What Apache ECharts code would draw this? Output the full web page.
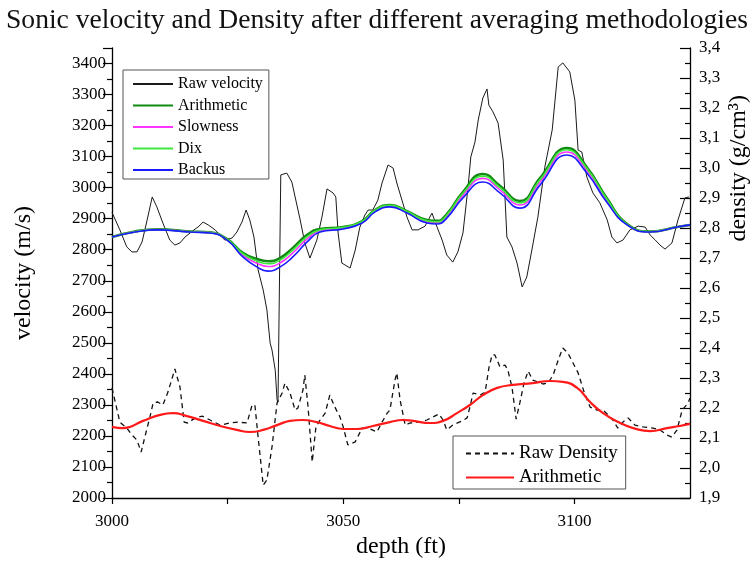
<!DOCTYPE html>
<html>
<head>
<meta charset="utf-8">
<script src="https://cdn.jsdelivr.net/npm/echarts@6/dist/echarts.min.js"></script>
<style>
html,body{margin:0;padding:0;background:#fff;}
#chart{width:754px;height:562px;}
</style>
</head>
<body>
<div id="chart"></div>
<script>
// Raw sonic velocity (m/s) vs depth (ft)
var velDepth = [3000,3001.7,3003.2,3004.3,3005.4,3006.5,3007.6,3008.7,3009.7,3011.0,3012.5,3013.6,3014.7,3015.8,3016.9,3018.0,3018.6,3019.7,3020.8,3022.3,3023.4,3024.4,3026.0,3027.0,3028.1,3029.0,3029.8,3030.7,3031.6,3032.7,3033.5,3034.2,3034.6,3035.3,3035.7,3035.9,3036.5,3037.8,3038.9,3039.6,3040.7,3041.7,3042.8,3044.3,3045.4,3046.5,3047.8,3048.4,3048.9,3049.7,3051.5,3052.6,3053.6,3054.7,3055.4,3056.4,3057.5,3058.4,3059.7,3060.8,3061.6,3062.7,3063.8,3064.9,3066.2,3067.7,3069.2,3070.3,3071.4,3072.4,3073.7,3074.8,3075.9,3077.0,3077.6,3078.5,3079.2,3080.2,3081.1,3081.5,3082.4,3083.5,3084.6,3085.4,3086.5,3087.6,3088.7,3089.7,3090.8,3092.1,3093.6,3095.2,3096.5,3097.5,3099.0,3100.1,3100.8,3101.6,3102.7,3104.0,3105.5,3107.1,3108.1,3109.2,3110.5,3112.0,3113.8,3115.3,3116.4,3117.5,3118.5,3119.6,3121.1,3122.4,3123.9,3124.8];
var rawVel = [2920,2864,2809,2793,2793,2825,2896,2970,2938,2886,2831,2815,2822,2841,2854,2867,2873,2889,2880,2864,2847,2831,2838,2857,2889,2928,2896,2841,2735,2670,2606,2499,2477,2412,2316,2309,3041,3047,3018,2970,2896,2822,2773,2831,2905,2996,2983,2970,2854,2757,2741,2799,2873,2912,2928,2928,2960,3015,3073,3063,3015,2960,2905,2864,2864,2876,2918,2873,2831,2783,2760,2793,2854,3002,3099,3147,3218,3289,3318,3266,3244,3208,3089,2841,2809,2757,2680,2712,2799,2905,3066,3186,3389,3402,3373,3282,3121,3115,3034,2983,2951,2896,2841,2822,2831,2864,2876,2873,2847,2831,2815,2802,2822,2896,2967,2970];

// Averaged velocities
var avgDepth = [3000,3005,3009.9,3016.9,3021.2,3024.9,3028.3,3031.4,3033.7,3036.3,3039.1,3042.2,3045,3050,3054.1,3056.9,3060.1,3063.8,3068.1,3070.3,3072.4,3075.9,3080.2,3083.9,3088.2,3092.6,3098.4,3102.7,3107.1,3111.4,3116.4,3122.2,3125];
var arithVel = [2841,2859,2866,2859,2856,2834,2790,2770,2763,2773,2806,2848,2867,2873,2892,2928,2944,2924,2896,2893,2915,2986,3044,3006,2957,3032,3128,3066,2964,2883,2859,2873,2880];
var slowVel  = [2841,2858,2865,2858,2855,2832,2783,2756,2746,2757,2790,2835,2861,2870,2889,2925,2941,2921,2890,2887,2908,2976,3030,2993,2944,3019,3115,3056,2957,2881,2858,2873,2880];
var dixVel   = [2841,2858,2865,2858,2855,2833,2787,2763,2755,2766,2799,2842,2864,2872,2891,2927,2943,2923,2893,2890,2912,2982,3037,3000,2951,3026,3122,3062,2961,2882,2858,2873,2880];
var backusVel= [2841,2857,2864,2857,2854,2831,2777,2744,2731,2744,2777,2825,2857,2867,2886,2922,2938,2918,2886,2883,2902,2967,3018,2983,2934,3009,3105,3047,2951,2880,2857,2873,2880];

// Raw density (g/cm3)
var denDepth = [3000,3001.7,3003.2,3004.3,3005.4,3006.3,3007.1,3008.2,3008.9,3009.9,3011.0,3012.1,3013.6,3014.7,3015.6,3016.4,3018.0,3019.5,3021.2,3023.4,3025.5,3027.2,3029.2,3030.3,3030.9,3031.6,3032.7,3033.5,3034.6,3035.7,3036.8,3037.4,3038.5,3039.6,3040.2,3041.3,3041.7,3042.4,3043.3,3044.1,3045.0,3046.1,3047.1,3048.2,3049.3,3050.0,3051.0,3052.6,3054.1,3055.4,3057.3,3058.4,3059.5,3060.1,3061.2,3061.6,3062.3,3063.4,3064.4,3066.6,3068.1,3069.4,3070.7,3071.6,3072.4,3073.7,3075.7,3076.8,3077.4,3078.1,3079.6,3080.7,3081.5,3082.2,3082.8,3083.9,3085.0,3085.6,3086.5,3087.4,3088.2,3089.1,3090.0,3091.0,3092.1,3093.2,3094.3,3095.4,3096.5,3097.5,3098.6,3099.7,3100.8,3102.1,3103.4,3104.9,3106.2,3107.3,3108.3,3109.4,3110.5,3111.6,3113.1,3114.8,3117.0,3118.5,3120.0,3121.1,3122.2,3123.3,3124.6,3125];
var rawDen = [2.267,2.153,2.133,2.110,2.093,2.053,2.103,2.170,2.217,2.220,2.210,2.253,2.330,2.270,2.153,2.150,2.167,2.173,2.160,2.143,2.150,2.153,2.150,2.210,2.210,2.103,1.943,1.960,2.070,2.217,2.250,2.283,2.250,2.193,2.200,2.260,2.310,2.203,2.020,2.137,2.160,2.183,2.243,2.203,2.170,2.137,2.077,2.087,2.133,2.133,2.120,2.153,2.183,2.193,2.293,2.317,2.227,2.143,2.150,2.153,2.160,2.170,2.180,2.160,2.127,2.143,2.157,2.167,2.203,2.250,2.243,2.253,2.333,2.377,2.377,2.337,2.343,2.327,2.270,2.163,2.217,2.283,2.323,2.293,2.287,2.280,2.283,2.310,2.360,2.400,2.383,2.350,2.317,2.253,2.203,2.193,2.193,2.177,2.160,2.133,2.153,2.167,2.143,2.137,2.133,2.127,2.110,2.103,2.127,2.193,2.217,2.233];

// Arithmetic averaged density
var denAvgDepth = [3000,3002.4,3006.7,3010.4,3013.2,3016.2,3019.7,3023.4,3027.0,3029.8,3032.7,3035.7,3038.5,3041.1,3044.3,3047.1,3050.0,3053.0,3056.4,3060.1,3062.9,3065.1,3068.8,3071.6,3074.6,3077.4,3080.2,3083.3,3086.7,3091.0,3094.7,3097.5,3100.6,3103.4,3106.2,3109.9,3112.7,3116.4,3120.0,3122.8,3125];
var arithDen = [2.137,2.133,2.157,2.177,2.183,2.173,2.157,2.140,2.127,2.120,2.127,2.143,2.157,2.160,2.153,2.140,2.130,2.130,2.140,2.153,2.160,2.157,2.150,2.157,2.183,2.210,2.243,2.267,2.277,2.283,2.290,2.287,2.267,2.220,2.183,2.150,2.133,2.123,2.133,2.140,2.147];

// Axis ticks
var xTicks = {min:3000, max:3125, step:25, labelStep:50};
var velTicks = {min:2000, max:3450, step:100};
var denTicks = {min:1.9, max:3.4, step:0.1};

function zip(a,b){ return a.map(function(x,i){ return [x,b[i]]; }); }

var FONT = 'Liberation Serif';
var chart = echarts.init(document.getElementById('chart'), null, {renderer:'canvas'});
var axisLineStyle = {color:'#000', width:1.3};

chart.setOption({
  animation:false,
  backgroundColor:'#fff',
  title:{
    text:'Sonic velocity and Density after different averaging methodologies',
    left:'center', top:2,
    textStyle:{fontFamily:FONT, fontSize:27.6, fontWeight:'normal', color:'#111'}
  },
  grid:{left:112, right:64, top:48, bottom:64, containLabel:false, outerBoundsMode:'none'},
  legend:[{
    orient:'vertical', left:123, top:70,
    data:['Raw velocity','Arithmetic','Slowness','Dix','Backus'],
    itemWidth:40, itemHeight:14, itemGap:5.5,
    padding:[6,6,1,9],
    borderColor:'#555', borderWidth:1, backgroundColor:'#fff',
    itemStyle:{opacity:0},
    textStyle:{fontFamily:FONT, fontSize:16, color:'#000', lineHeight:16}
  },{
    orient:'vertical', left:453, top:436,
    data:['Raw Density','Arithmetic '],
    itemWidth:48, itemHeight:14, itemGap:5,
    padding:[8,8,2,12],
    borderColor:'#555', borderWidth:1, backgroundColor:'#fff',
    itemStyle:{opacity:0},
    textStyle:{fontFamily:FONT, fontSize:19, color:'#000', lineHeight:19}
  }],
  xAxis:{
    type:'value', min:xTicks.min, max:xTicks.max, interval:xTicks.step,
    name:'depth (ft)', nameLocation:'middle', nameGap:37,
    nameTextStyle:{fontFamily:FONT, fontSize:24, color:'#000'},
    axisLine:{show:true, lineStyle:axisLineStyle},
    axisTick:{show:true, length:6, lineStyle:{color:'#000', width:1.2}},
    axisLabel:{fontFamily:FONT, fontSize:17, color:'#000', margin:15, showMaxLabel:false,
      formatter:function(v){ return (v % xTicks.labelStep === 0) ? String(v) : ''; }},
    splitLine:{show:false}
  },
  yAxis:[{
    type:'value', min:velTicks.min, max:velTicks.max, interval:velTicks.step,
    name:'velocity (m/s)', nameLocation:'middle', nameGap:76, nameRotate:90,
    nameTextStyle:{fontFamily:FONT, fontSize:24, color:'#000'},
    axisLine:{show:true, lineStyle:axisLineStyle},
    axisTick:{show:true, length:9, lineStyle:{color:'#000', width:1.2}},
    minorTick:{show:true, splitNumber:2, length:5, lineStyle:{color:'#000', width:1.2}},
    axisLabel:{fontFamily:FONT, fontSize:17, color:'#000', margin:6, showMaxLabel:false,
      formatter:function(v){ return String(v); }},
    splitLine:{show:false}
  },{
    type:'value', position:'right', min:denTicks.min, max:denTicks.max, interval:denTicks.step,
    axisLine:{show:true, lineStyle:axisLineStyle},
    axisTick:{show:true, inside:true, length:10, lineStyle:{color:'#000', width:1.2}},
    minorTick:{show:true, splitNumber:2, length:5, lineStyle:{color:'#000', width:1.2}},
    axisLabel:{fontFamily:FONT, fontSize:17, color:'#000', margin:9,
      formatter:function(v){ return (Math.round(v*10)/10).toFixed(1).replace('.', ','); }},
    splitLine:{show:false}
  }],
  graphic:[{
    type:'text', left:727, top:95, rotation:Math.PI/2,
    style:{text:'density (g/cm³)', font:'24px "Liberation Serif"', fill:'#000'}
  }],
  series:[
    {name:'Raw velocity', type:'line', yAxisIndex:0, data:zip(velDepth,rawVel), symbol:'none',
      lineStyle:{color:'#1a1a1a', width:1}, itemStyle:{color:'#1a1a1a'}, z:2},
    {name:'Arithmetic', type:'line', yAxisIndex:0, data:zip(avgDepth,arithVel), symbol:'none', smooth:0.5,
      lineStyle:{color:'#138a13', width:2.5}, itemStyle:{color:'#138a13'}, z:3},
    {name:'Slowness', type:'line', yAxisIndex:0, data:zip(avgDepth,slowVel), symbol:'none', smooth:0.5,
      lineStyle:{color:'#ff33ff', width:1.6}, itemStyle:{color:'#ff33ff'}, z:3},
    {name:'Dix', type:'line', yAxisIndex:0, data:zip(avgDepth,dixVel), symbol:'none', smooth:0.5,
      lineStyle:{color:'#3ee83e', width:1.6}, itemStyle:{color:'#3ee83e'}, z:3},
    {name:'Backus', type:'line', yAxisIndex:0, data:zip(avgDepth,backusVel), symbol:'none', smooth:0.5,
      lineStyle:{color:'#1a1aff', width:1.6}, itemStyle:{color:'#1a1aff'}, z:3},
    {name:'Raw Density', type:'line', yAxisIndex:1, data:zip(denDepth,rawDen), symbol:'none',
      lineStyle:{color:'#111', width:1.3, type:[5,4]}, itemStyle:{color:'#111'}, z:2},
    {name:'Arithmetic ', type:'line', yAxisIndex:1, data:zip(denAvgDepth,arithDen), symbol:'none', smooth:0.5,
      lineStyle:{color:'#ff1a1a', width:2.2}, itemStyle:{color:'#ff1a1a'}, z:3}
  ]
});
</script>
</body>
</html>
